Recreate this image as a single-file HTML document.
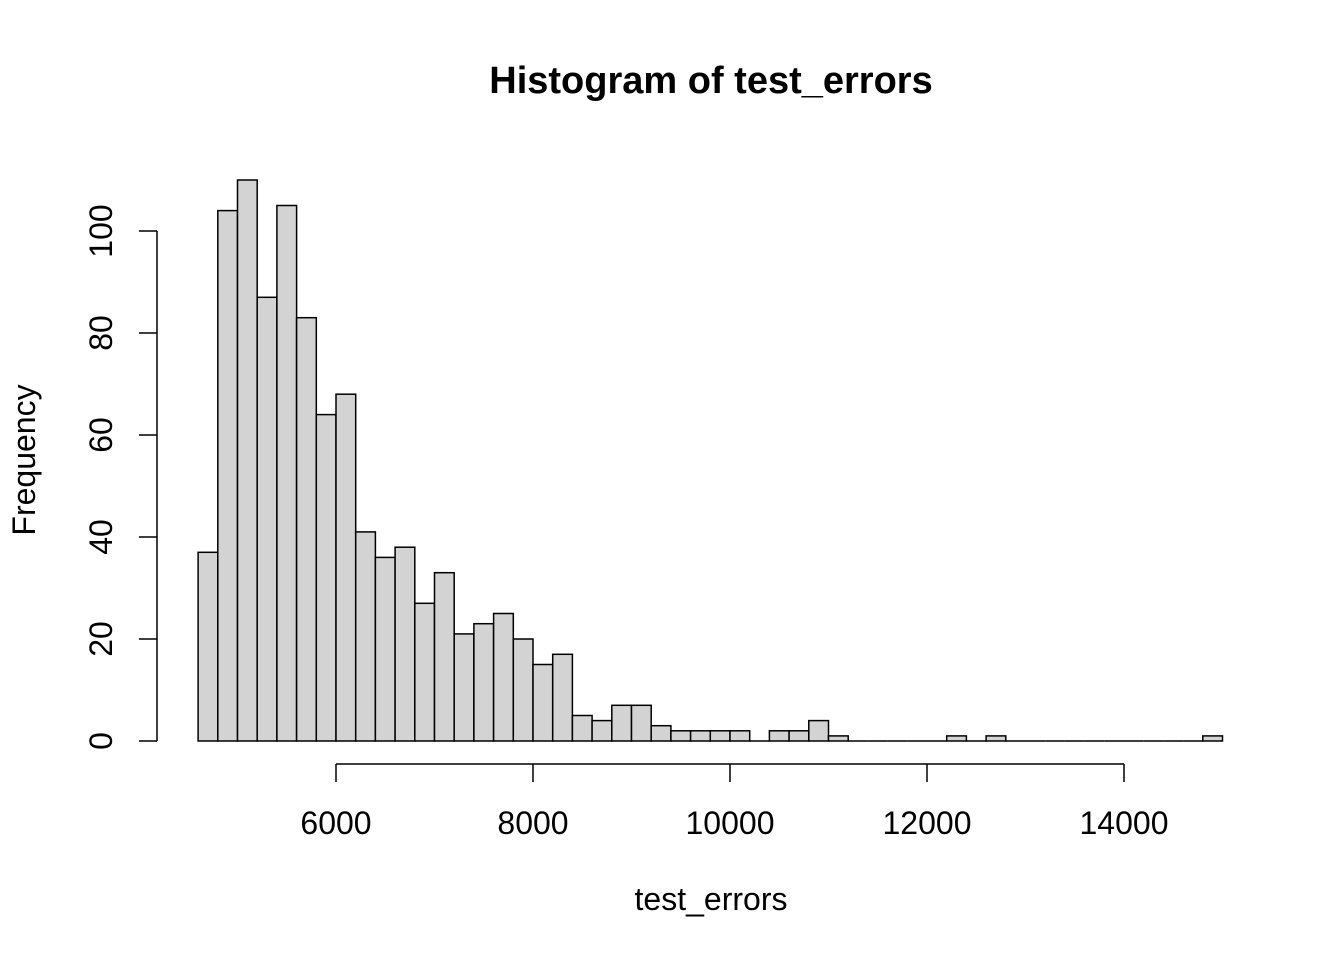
<!DOCTYPE html>
<html><head><meta charset="utf-8"><style>
html,body{margin:0;padding:0;background:#fff}
text{font-family:"Liberation Sans",Arial,sans-serif;fill:#000}
</style></head><body>
<svg id="chart" width="1344" height="960" xmlns="http://www.w3.org/2000/svg">
<text x="711" y="93" text-anchor="middle" font-size="38" font-weight="bold">Histogram of test_errors</text>
<text x="711" y="910" text-anchor="middle" font-size="32">test_errors</text>
<text transform="translate(35,460) rotate(-90)" text-anchor="middle" font-size="32">Frequency</text>
<g id="bars"></g><g id="axes"></g>
</svg>
<script>
const binStart = 4600;
const binWidth = 200;
const counts = [37,104,110,87,105,83,64,68,41,36,38,27,33,21,23,25,20,15,17,5,4,7,7,3,2,2,2,2,0,2,2,4,1,0,0,0,0,0,1,0,1,0,0,0,0,0,0,0,0,0,0,1];
const xTicks = [6000,8000,10000,12000,14000];
const yTicks = [0,20,40,60,80,100];
const NS="http://www.w3.org/2000/svg";
const xs=v=>336+(v-6000)*(1124-336)/8000;
const ys=v=>741-v*5.1;
const bars=document.getElementById('bars'), axes=document.getElementById('axes');
function mk(p,tag,attrs){const e=document.createElementNS(NS,tag);for(const k in attrs)e.setAttribute(k,attrs[k]);p.appendChild(e);return e;}
counts.forEach((c,i)=>{
  const x0=xs(binStart+i*binWidth), x1=xs(binStart+(i+1)*binWidth);
  let e;
  if(c>0){e=mk(bars,'rect',{x:x0,y:ys(c),width:x1-x0,height:ys(0)-ys(c),fill:'#d3d3d3',stroke:'#000','stroke-width':1.5});}
  else{e=mk(bars,'line',{x1:x0,x2:x1,y1:ys(0),y2:ys(0),stroke:'#000','stroke-width':1.5});}
  
  
});
let l=mk(axes,'line',{x1:xs(xTicks[0]),x2:xs(xTicks[xTicks.length-1]),y1:764,y2:764,stroke:'#000','stroke-width':1.5});


xTicks.forEach(v=>{
  const t=mk(axes,'line',{x1:xs(v),x2:xs(v),y1:764,y2:782,stroke:'#000','stroke-width':1.5});
  
  
  const tx=mk(axes,'text',{x:xs(v),y:834,'text-anchor':'middle','font-size':32});
  tx.textContent=v;
  
  
});
l=mk(axes,'line',{x1:157,x2:157,y1:ys(yTicks[0]),y2:ys(yTicks[yTicks.length-1]),stroke:'#000','stroke-width':1.5});


yTicks.forEach(v=>{
  const t=mk(axes,'line',{x1:139,x2:157,y1:ys(v),y2:ys(v),stroke:'#000','stroke-width':1.5});
  
  
  const tx=mk(axes,'text',{transform:`translate(112,${ys(v)}) rotate(-90)`,'text-anchor':'middle','font-size':32});
  tx.textContent=v;
  
  
});
</script>
</body></html>
